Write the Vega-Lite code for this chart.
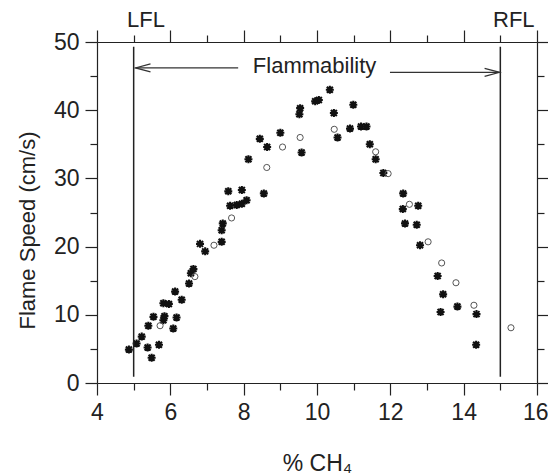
{
  "$schema": "https://vega.github.io/schema/vega-lite/v6.json",
  "width": 440,
  "height": 341,
  "autosize": {"type": "none"},
  "padding": {"left": 97, "top": 42, "right": 11, "bottom": 93},
  "background": "white",
  "config": {
    "view": {"stroke": null},
    "axis": {
      "grid": false,
      "domainColor": "#222",
      "domainWidth": 1.2,
      "tickColor": "#222",
      "tickWidth": 1.2,
      "labelFont": "Liberation Sans",
      "labelFontSize": 23,
      "labelColor": "#222",
      "titleFont": "Liberation Sans",
      "titleFontSize": 22,
      "titleFontWeight": "normal",
      "titleColor": "#222"
    }
  },
  "datasets": {
    "points": [
      {"pct": 4.87, "speed": 4.9, "series": "A"},
      {"pct": 5.08, "speed": 5.8, "series": "A"},
      {"pct": 5.22, "speed": 6.8, "series": "A"},
      {"pct": 5.38, "speed": 5.2, "series": "A"},
      {"pct": 5.49, "speed": 3.7, "series": "A"},
      {"pct": 5.69, "speed": 5.6, "series": "A"},
      {"pct": 5.40, "speed": 8.4, "series": "A"},
      {"pct": 5.54, "speed": 9.7, "series": "A"},
      {"pct": 5.81, "speed": 9.2, "series": "A"},
      {"pct": 5.84, "speed": 9.8, "series": "A"},
      {"pct": 5.81, "speed": 11.7, "series": "A"},
      {"pct": 5.96, "speed": 11.6, "series": "A"},
      {"pct": 6.08, "speed": 8.0, "series": "A"},
      {"pct": 6.17, "speed": 9.6, "series": "A"},
      {"pct": 6.13, "speed": 13.4, "series": "A"},
      {"pct": 6.31, "speed": 12.2, "series": "A"},
      {"pct": 6.51, "speed": 14.6, "series": "A"},
      {"pct": 6.56, "speed": 16.1, "series": "A"},
      {"pct": 6.63, "speed": 16.7, "series": "A"},
      {"pct": 6.81, "speed": 20.4, "series": "A"},
      {"pct": 6.95, "speed": 19.3, "series": "A"},
      {"pct": 7.40, "speed": 20.7, "series": "A"},
      {"pct": 7.40, "speed": 22.4, "series": "A"},
      {"pct": 7.43, "speed": 23.4, "series": "A"},
      {"pct": 7.58, "speed": 28.1, "series": "A"},
      {"pct": 7.63, "speed": 26.0, "series": "A"},
      {"pct": 7.81, "speed": 26.1, "series": "A"},
      {"pct": 7.95, "speed": 26.3, "series": "A"},
      {"pct": 8.08, "speed": 26.8, "series": "A"},
      {"pct": 7.95, "speed": 28.3, "series": "A"},
      {"pct": 8.55, "speed": 27.8, "series": "A"},
      {"pct": 8.13, "speed": 32.8, "series": "A"},
      {"pct": 8.44, "speed": 35.8, "series": "A"},
      {"pct": 8.64, "speed": 34.6, "series": "A"},
      {"pct": 9.00, "speed": 36.7, "series": "A"},
      {"pct": 9.54, "speed": 40.3, "series": "A"},
      {"pct": 9.52, "speed": 39.4, "series": "A"},
      {"pct": 9.58, "speed": 33.8, "series": "A"},
      {"pct": 9.95, "speed": 41.3, "series": "A"},
      {"pct": 10.05, "speed": 41.5, "series": "A"},
      {"pct": 10.35, "speed": 43.0, "series": "A"},
      {"pct": 10.46, "speed": 39.6, "series": "A"},
      {"pct": 10.99, "speed": 40.8, "series": "A"},
      {"pct": 10.56, "speed": 36.0, "series": "A"},
      {"pct": 10.90, "speed": 37.3, "series": "A"},
      {"pct": 11.20, "speed": 37.6, "series": "A"},
      {"pct": 11.35, "speed": 37.6, "series": "A"},
      {"pct": 11.44, "speed": 35.0, "series": "A"},
      {"pct": 11.60, "speed": 32.8, "series": "A"},
      {"pct": 11.81, "speed": 30.8, "series": "A"},
      {"pct": 12.35, "speed": 27.8, "series": "A"},
      {"pct": 12.34, "speed": 25.5, "series": "A"},
      {"pct": 12.76, "speed": 26.0, "series": "A"},
      {"pct": 12.40, "speed": 23.4, "series": "A"},
      {"pct": 12.72, "speed": 23.2, "series": "A"},
      {"pct": 12.81, "speed": 20.2, "series": "A"},
      {"pct": 13.29, "speed": 15.7, "series": "A"},
      {"pct": 13.44, "speed": 13.0, "series": "A"},
      {"pct": 13.83, "speed": 11.2, "series": "A"},
      {"pct": 13.37, "speed": 10.4, "series": "A"},
      {"pct": 14.35, "speed": 10.1, "series": "A"},
      {"pct": 14.34, "speed": 5.6, "series": "A"},
      {"pct": 5.72, "speed": 8.4, "series": "B"},
      {"pct": 6.67, "speed": 15.6, "series": "B"},
      {"pct": 7.19, "speed": 20.2, "series": "B"},
      {"pct": 7.67, "speed": 24.2, "series": "B"},
      {"pct": 8.63, "speed": 31.6, "series": "B"},
      {"pct": 9.06, "speed": 34.6, "series": "B"},
      {"pct": 9.54, "speed": 36.0, "series": "B"},
      {"pct": 10.47, "speed": 37.2, "series": "B"},
      {"pct": 11.60, "speed": 33.9, "series": "B"},
      {"pct": 11.94, "speed": 30.7, "series": "B"},
      {"pct": 12.52, "speed": 26.2, "series": "B"},
      {"pct": 13.03, "speed": 20.7, "series": "B"},
      {"pct": 13.40, "speed": 17.6, "series": "B"},
      {"pct": 13.79, "speed": 14.7, "series": "B"},
      {"pct": 14.28, "speed": 11.4, "series": "B"},
      {"pct": 15.29, "speed": 8.1, "series": "B"}
    ],
    "limits": [
      {"pct": 5, "y1": 0.9, "y2": 49.3},
      {"pct": 15, "y1": 0.9, "y2": 49.3}
    ],
    "arrows": [
      {"x1": 5.05, "x2": 7.85, "y": 46.2},
      {"x1": 11.99, "x2": 14.98, "y": 45.55}
    ],
    "heads": [
      {"x": 5.05, "y": 46.2, "dir": "left"},
      {"x": 14.98, "y": 45.55, "dir": "right"}
    ],
    "labels": [
      {"x": 4.82, "y": 52.2, "label": "LFL"},
      {"x": 14.8, "y": 52.2, "label": "RFL"},
      {"x": 8.25, "y": 45.5, "label": "Flammability"}
    ]
  },
  "layer": [
    {
      "data": {"name": "points"},
      "mark": {"type": "point", "filled": false, "opacity": 1},
      "encoding": {
        "x": {
          "field": "pct",
          "type": "quantitative",
          "scale": {"domain": [4, 16], "nice": false, "zero": false},
          "axis": {
            "orient": "bottom",
            "values": [4, 5, 6, 7, 8, 9, 10, 11, 12, 13, 14, 15, 16],
            "labelExpr": "datum.value % 2 === 0 ? datum.label : ''",
            "tickSize": {"condition": {"test": "datum.value % 2 === 0", "value": 12}, "value": 7},
            "labelAlign": {"condition": {"test": "datum.value === 16", "value": "right"}, "value": "center"},
            "labelOffset": {"condition": {"test": "datum.value === 16", "value": 11}, "value": 0},
            "labelPadding": 6,
            "labelFlush": false,
            "labelOverlap": false,
            "title": "% CH₄",
            "titleFontSize": 23,
            "titlePadding": 28
          }
        },
        "y": {
          "field": "speed",
          "type": "quantitative",
          "scale": {"domain": [0, 50], "nice": false, "zero": false},
          "axis": {
            "orient": "left",
            "values": [0, 5, 10, 15, 20, 25, 30, 35, 40, 45, 50],
            "labelExpr": "datum.value % 10 === 0 ? datum.label : ''",
            "tickSize": {"condition": {"test": "datum.value % 10 === 0", "value": 12}, "value": 7},
            "labelPadding": 6,
            "labelFlush": false,
            "labelOverlap": false,
            "title": "Flame Speed (cm/s)",
            "titlePadding": 14,
            "titleY": 188
          }
        },
        "shape": {
          "field": "series",
          "type": "nominal",
          "scale": {"domain": ["A", "B"], "range": ["M-1,0L1,0M0,-1L0,1M-0.75,-0.75L0.75,0.75M-0.75,0.75L0.75,-0.75", "circle"]},
          "legend": null
        },
        "color": {
          "field": "series",
          "type": "nominal",
          "scale": {"domain": ["A", "B"], "range": ["#111111", "#555555"]},
          "legend": null
        },
        "size": {
          "field": "series",
          "type": "nominal",
          "scale": {"domain": ["A", "B"], "range": [64, 38]},
          "legend": null
        },
        "strokeWidth": {
          "field": "series",
          "type": "nominal",
          "scale": {"domain": ["A", "B"], "range": [2.1, 1]},
          "legend": null
        }
      }
    },
    {
      "data": {"name": "limits"},
      "mark": {"type": "rule", "color": "#222", "strokeWidth": 1.5},
      "encoding": {
        "x": {
          "field": "pct",
          "type": "quantitative",
          "scale": {"domain": [4, 16], "nice": false, "zero": false},
          "axis": {
            "orient": "top",
            "values": [4, 5, 6, 7, 8, 9, 10, 11, 12, 13, 14, 15, 16],
            "labels": false,
            "tickSize": {"condition": {"test": "datum.value % 2 === 0", "value": 12}, "value": 7},
            "title": null
          }
        },
        "y": {
          "field": "y1",
          "type": "quantitative",
          "scale": {"domain": [0, 50], "nice": false, "zero": false},
          "axis": {
            "orient": "right",
            "values": [0, 5, 10, 15, 20, 25, 30, 35, 40, 45, 50],
            "labels": false,
            "tickSize": {"condition": {"test": "datum.value % 10 === 0", "value": 12}, "value": 7},
            "title": null
          }
        },
        "y2": {"field": "y2"}
      }
    },
    {
      "data": {"name": "arrows"},
      "mark": {"type": "rule", "color": "#333", "strokeWidth": 1.2},
      "encoding": {
        "x": {"field": "x1", "type": "quantitative", "scale": {"domain": [4, 16], "nice": false, "zero": false}, "axis": null},
        "x2": {"field": "x2"},
        "y": {"field": "y", "type": "quantitative", "scale": {"domain": [0, 50], "nice": false, "zero": false}, "axis": null}
      }
    },
    {
      "data": {"name": "heads"},
      "transform": [{"filter": "datum.dir === 'left'"}],
      "mark": {"type": "point", "filled": false, "shape": "M2,-0.53L0,0L2,0.53", "size": 225, "color": "#333", "strokeWidth": 1.2, "opacity": 1},
      "encoding": {
        "x": {"field": "x", "type": "quantitative", "scale": {"domain": [4, 16], "nice": false, "zero": false}, "axis": null},
        "y": {"field": "y", "type": "quantitative", "scale": {"domain": [0, 50], "nice": false, "zero": false}, "axis": null}
      }
    },
    {
      "data": {"name": "heads"},
      "transform": [{"filter": "datum.dir === 'right'"}],
      "mark": {"type": "point", "filled": false, "shape": "M-2,-0.53L0,0L-2,0.53", "size": 225, "color": "#333", "strokeWidth": 1.2, "opacity": 1},
      "encoding": {
        "x": {"field": "x", "type": "quantitative", "scale": {"domain": [4, 16], "nice": false, "zero": false}, "axis": null},
        "y": {"field": "y", "type": "quantitative", "scale": {"domain": [0, 50], "nice": false, "zero": false}, "axis": null}
      }
    },
    {
      "data": {"name": "labels"},
      "mark": {"type": "text", "align": "left", "baseline": "alphabetic", "font": "Liberation Sans", "fontSize": 22, "color": "#222"},
      "encoding": {
        "x": {"field": "x", "type": "quantitative", "scale": {"domain": [4, 16], "nice": false, "zero": false}, "axis": null},
        "y": {"field": "y", "type": "quantitative", "scale": {"domain": [0, 50], "nice": false, "zero": false}, "axis": null},
        "text": {"field": "label"}
      }
    }
  ],
  "resolve": {"axis": {"x": "independent", "y": "independent"}}
}
